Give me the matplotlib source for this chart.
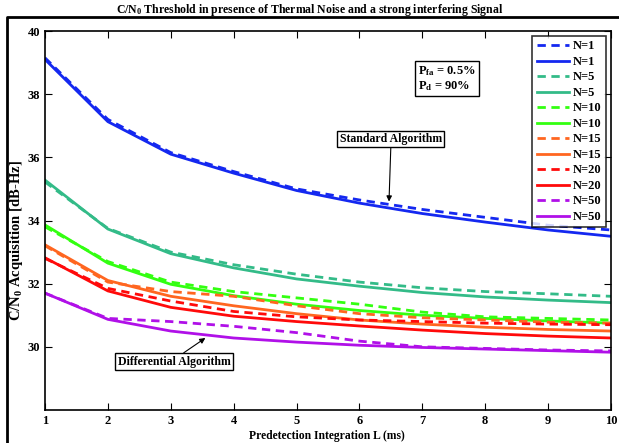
import matplotlib
matplotlib.use("Agg")
import matplotlib.pyplot as plt
from matplotlib.lines import Line2D

plt.rcParams.update({
    "font.family": ["Liberation Serif", "DejaVu Serif"],
    "font.weight": "bold",
    "mathtext.fontset": "custom",
    "mathtext.rm": "Liberation Serif:bold",
    "mathtext.it": "Liberation Serif:bold",
    "mathtext.bf": "Liberation Serif:bold",
})

L = [1, 2, 3, 4, 5, 6, 7, 8, 9, 10]
labels = ["N=1", "N=5", "N=10", "N=15", "N=20", "N=50"]
colors = ["#1428F0", "#33BB88", "#33FF11", "#FF6620", "#FF0A0A", "#B010E8"]

# dashed = standard algorithm, solid = differential algorithm
dashed = [
    [39.15, 37.2, 36.15, 35.55, 35.0, 34.65, 34.35, 34.1, 33.85, 33.7],
    [35.22, 33.75, 33.0, 32.6, 32.3, 32.05, 31.87, 31.75, 31.68, 31.6],
    [33.8, 32.7, 32.05, 31.75, 31.55, 31.35, 31.1, 30.95, 30.9, 30.85],
    [33.2, 32.05, 31.75, 31.6, 31.3, 31.05, 30.92, 30.85, 30.78, 30.75],
    [32.8, 31.85, 31.45, 31.12, 30.95, 30.85, 30.8, 30.75, 30.72, 30.7],
    [31.7, 30.9, 30.8, 30.65, 30.45, 30.18, 30.0, 29.95, 29.9, 29.87],
]
solid = [
    [39.1, 37.13, 36.1, 35.5, 34.95, 34.55, 34.22, 33.95, 33.7, 33.5],
    [35.28, 33.73, 32.95, 32.5, 32.15, 31.92, 31.72, 31.58, 31.48, 31.4],
    [33.86, 32.65, 31.98, 31.62, 31.35, 31.15, 31.0, 30.9, 30.82, 30.75],
    [33.23, 32.1, 31.6, 31.3, 31.05, 30.85, 30.72, 30.62, 30.55, 30.5],
    [32.82, 31.77, 31.25, 30.97, 30.8, 30.66, 30.53, 30.42, 30.34, 30.28],
    [31.7, 30.87, 30.5, 30.28, 30.15, 30.05, 29.98, 29.93, 29.88, 29.83],
]

fig = plt.figure(figsize=(6.19, 4.43), dpi=100)
ax = fig.add_axes([45 / 619, 33 / 443, 566 / 619, 379 / 443])

for lab, c, d, s in zip(labels, colors, dashed, solid):
    ax.plot(L, d, "--", color=c, lw=2, label=lab, dashes=(3, 2))
    ax.plot(L, s, "-", color=c, lw=2, label=lab)

ax.set_xlim(1, 10)
ax.set_ylim(28, 40)
ax.set_xticks(L)
ax.set_yticks([30, 32, 34, 36, 38, 40])
ax.tick_params(direction="in", top=True, right=True, length=5, labelsize=9)
for t in ax.get_xticklabels() + ax.get_yticklabels():
    t.set_fontweight("bold")
for sp in ax.spines.values():
    sp.set_linewidth(1.2)

ax.set_xlabel("Predetection Integration L (ms)", fontsize=8.4, fontweight="bold")
ax.xaxis.set_label_coords(0.498, -0.052)
ax.set_ylabel("C/N$_0$ Acquisition [dB-Hz]", fontsize=10.5, fontweight="bold")
ax.yaxis.set_label_coords(-0.036, 0.446)
fig.text(0.5, 0.977, "C/N$_0$ Threshold in presence of Thermal Noise and a strong interfering Signal",
         ha="center", va="center", fontsize=8.5, fontweight="bold")

leg = ax.legend(loc="upper right", fontsize=9, frameon=True, fancybox=False,
                handlelength=2.6, handletextpad=0.3, labelspacing=0.28,
                borderpad=0.35, borderaxespad=0.4)
leg.get_frame().set_edgecolor("black")
leg.get_frame().set_linewidth(1.2)
for t in leg.get_texts():
    t.set_fontweight("bold")

box = dict(boxstyle="square,pad=0.2", fc="white", ec="black", lw=1)
ax.text(6.93, 38.5, "P$_{fa}$ = 0.5%\nP$_d$ = 90%", fontsize=9, fontweight="bold",
        ha="left", va="center", bbox=dict(boxstyle="square,pad=0.25", fc="white", ec="black", lw=1),
        linespacing=1.1)
ax.annotate("Standard Algorithm", xy=(6.47, 34.6), xytext=(6.5, 36.58),
            fontsize=8.5, fontweight="bold", ha="center", va="center", bbox=box,
            arrowprops=dict(arrowstyle="-|>", color="black", lw=0.8, mutation_scale=8,
                            shrinkA=0, shrinkB=0, relpos=(0.5, 0)))
ax.annotate("Differential Algorithm", xy=(3.55, 30.28), xytext=(3.05, 29.53),
            fontsize=8.5, fontweight="bold", ha="center", va="center", bbox=box,
            arrowprops=dict(arrowstyle="-|>", color="black", lw=0.8, mutation_scale=8,
                            shrinkA=0, shrinkB=0, relpos=(0.55, 1)))

# outer frame lines (left and top)
fig.add_artist(Line2D([7 / 619, 7 / 619, 1.0], [0.0, 1 - 17 / 443, 1 - 17 / 443],
                      transform=fig.transFigure, color="black", lw=2))

fig.savefig("out.png", dpi=100)
